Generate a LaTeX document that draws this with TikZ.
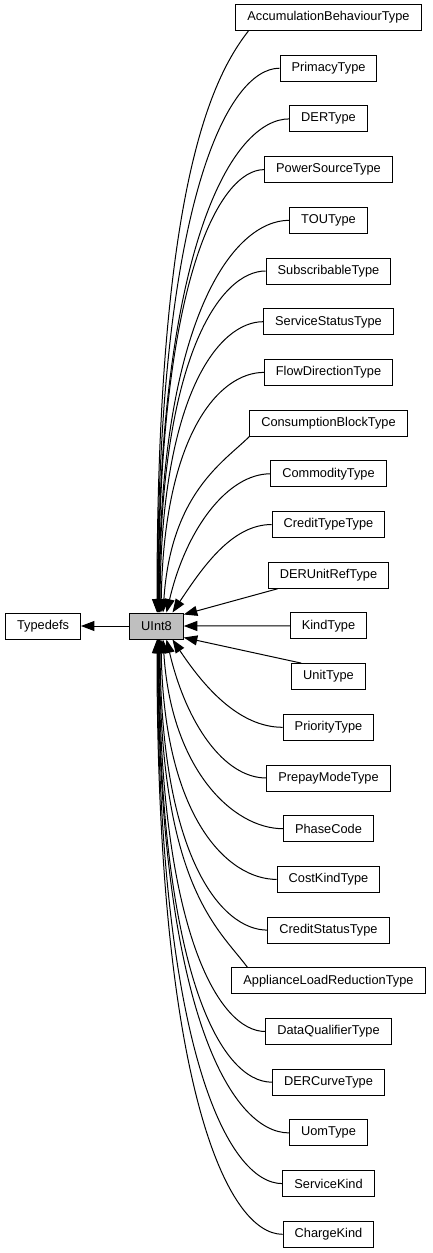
\documentclass[tikz,border=0pt]{standalone}
\usepackage{fontspec}
\setmainfont{Liberation Sans}
\usetikzlibrary{arrows.meta,calc}
\begin{document}
\begin{tikzpicture}[x=1pt,y=-1pt,
  box/.style={draw=black,line width=1pt,fill=white,minimum height=26pt,inner xsep=11.5pt,inner ysep=0pt,font=\fontsize{12.8}{14}\selectfont},
  cur/.style={box,fill=gray!50},
  arr/.style={line width=1pt,-{Triangle[length=13.5pt,width=10pt]}}]
\useasboundingbox (0,0) rectangle (432,1253);
% left nodes
\node[box] (t) at (43,626) {Typedefs};
\node[cur] (u) at (156.5,626) {UInt8};
% right column
\node[box] (n0) at (328.5,17.5) {AccumulationBehaviourType};
\node[box] (n1) at (328.5,68.2) {PrimacyType};
\node[box] (n2) at (328.5,118.9) {DERType};
\node[box] (n3) at (328.5,169.6) {PowerSourceType};
\node[box] (n4) at (328.5,220.3) {TOUType};
\node[box] (n5) at (328.5,271.0) {SubscribableType};
\node[box] (n6) at (328.5,321.7) {ServiceStatusType};
\node[box] (n7) at (328.5,372.4) {FlowDirectionType};
\node[box] (n8) at (328.5,423.1) {ConsumptionBlockType};
\node[box] (n9) at (328.5,473.8) {CommodityType};
\node[box] (n10) at (328.5,524.5) {CreditTypeType};
\node[box] (n11) at (328.5,575.2) {DERUnitRefType};
\node[box] (n12) at (328.5,625.9) {KindType};
\node[box] (n13) at (328.5,676.6) {UnitType};
\node[box] (n14) at (328.5,727.3) {PriorityType};
\node[box] (n15) at (328.5,778.0) {PrepayModeType};
\node[box] (n16) at (328.5,828.7) {PhaseCode};
\node[box] (n17) at (328.5,879.4) {CostKindType};
\node[box] (n18) at (328.5,930.1) {CreditStatusType};
\node[box] (n19) at (328.5,980.8) {ApplianceLoadReductionType};
\node[box] (n20) at (328.5,1031.5) {DataQualifierType};
\node[box] (n21) at (328.5,1082.2) {DERCurveType};
\node[box] (n22) at (328.5,1132.9) {UomType};
\node[box] (n23) at (328.5,1183.6) {ServiceKind};
\node[box] (n24) at (328.5,1234.3) {ChargeKind};
% edge to Typedefs
\draw[arr] (u.west) -- (t.east);
% upper edges
\draw[arr] ($(n0.south west)+(13,0)$) .. controls +(-35,45) and +(0,-430) .. ($(u.north)+(0.5,0)$);
\draw[arr] (n1.west) .. controls +(-52,0) and +(0,-410) .. ($(u.north)+(1,0)$);
\draw[arr] (n2.west) .. controls +(-56,0) and +(0,-370) .. ($(u.north)+(1.5,0)$);
\draw[arr] (n3.west) .. controls +(-45,0) and +(0,-333) .. ($(u.north)+(2,0)$);
\draw[arr] (n4.west) .. controls +(-56,0) and +(0,-295) .. ($(u.north)+(2.5,0)$);
\draw[arr] (n5.west) .. controls +(-45,0) and +(0,-257) .. ($(u.north)+(3,0)$);
\draw[arr] (n6.west) .. controls +(-44,0) and +(1,-219) .. ($(u.north)+(3.5,0)$);
\draw[arr] (n7.west) .. controls +(-44,0) and +(3,-180) .. ($(u.north)+(4.5,0)$);
\draw[arr] (n8.south west) .. controls +(-25,25) and +(8,-120) .. ($(u.north)+(6.5,0)$);
\draw[arr] (n9.west) .. controls +(-42,0) and +(20,-85) .. ($(u.north)+(10,0)$);
\draw[arr] (n10.west) .. controls +(-40,0) and +(30,-45) .. ($(u.north)+(16,0)$);
% straight edges
\draw[arr] ($(n11.south west)+(10,0)$) -- ($(u.north east)+(0,2)$);
\draw[arr] (n12.west) -- (u.east);
\draw[arr] ($(n13.north west)+(10,0)$) -- ($(u.south east)+(0,-2)$);
% lower edges
\draw[arr] (n14.west) .. controls +(-45,0) and +(30,45) .. ($(u.south)+(16,0)$);
\draw[arr] (n15.west) .. controls +(-42,0) and +(20,85) .. ($(u.south)+(10,0)$);
\draw[arr] (n16.west) .. controls +(-50,0) and +(8,130) .. ($(u.south)+(6.5,0)$);
\draw[arr] (n17.west) .. controls +(-48,0) and +(3,180) .. ($(u.south)+(4.5,0)$);
\draw[arr] (n18.west) .. controls +(-46,0) and +(1,218) .. ($(u.south)+(3.5,0)$);
\draw[arr] ($(n19.north west)+(16,0)$) .. controls +(-30,-40) and +(0,246) .. ($(u.south)+(3,0)$);
\draw[arr] (n20.west) .. controls +(-46,0) and +(0,294) .. ($(u.south)+(2.5,0)$);
\draw[arr] (n21.west) .. controls +(-52,0) and +(0,332) .. ($(u.south)+(2,0)$);
\draw[arr] (n22.west) .. controls +(-58,0) and +(0,370) .. ($(u.south)+(1.5,0)$);
\draw[arr] (n23.west) .. controls +(-55,0) and +(0,408) .. ($(u.south)+(1,0)$);
\draw[arr] (n24.west) .. controls +(-56,0) and +(0,446) .. ($(u.south)+(0.5,0)$);
\end{tikzpicture}
\end{document}
